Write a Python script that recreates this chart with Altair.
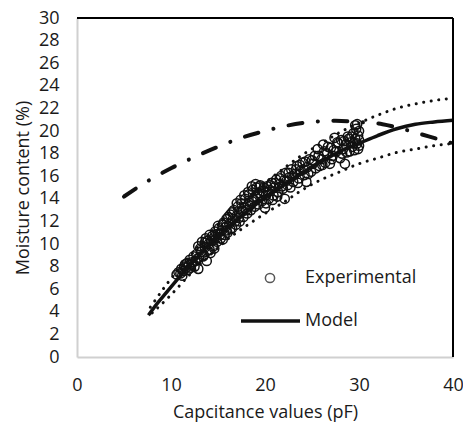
import altair as alt
import pandas as pd

# Experimental points (capacitance pF, moisture %)
exp_x = [10.6, 10.8, 11.0, 11.1, 11.3, 11.4, 11.6, 11.7, 11.9, 12.0, 12.1, 12.3, 12.4, 12.6, 12.7,
         12.9, 12.9, 13.0, 13.2, 13.3, 13.5, 13.6, 13.7, 13.8, 13.9, 14.0, 14.1, 14.2, 14.3, 14.5,
         14.6, 14.7, 14.9, 15.0, 15.1, 15.3, 15.4, 15.5, 15.7, 15.8, 15.9, 16.0, 16.2, 16.3, 16.5,
         16.6, 16.7, 16.9, 17.0, 17.1, 17.3, 17.4, 17.5, 17.7, 17.8, 17.9, 18.1, 18.2, 18.3, 18.5,
         18.6, 18.7, 18.9, 19.0, 19.1, 19.3, 19.4, 19.5, 19.7, 19.8, 20.0, 20.1, 20.2, 20.4, 20.5,
         20.7, 20.9, 21.0, 21.2, 21.4, 21.5, 21.7, 21.9, 22.0, 22.1, 22.2, 22.4, 22.6, 22.8, 23.0,
         23.2, 23.4, 23.6, 23.8, 24.0, 24.2, 24.4, 24.5, 24.7, 24.9, 25.1, 25.3, 25.6, 25.8, 26.0,
         26.2, 26.4, 26.6, 26.9, 27.0, 27.2, 27.4, 27.6, 27.8, 28.0, 28.1, 28.3, 28.5, 28.6, 28.8,
         29.0, 29.1, 29.3, 29.4, 29.5, 29.6, 29.7, 29.8, 29.8, 29.9, 30.0, 30.0,
         11.2, 11.5, 11.8, 12.2, 12.5, 12.8, 13.1, 13.4, 13.6, 13.9, 14.1, 14.4, 14.6, 14.8, 15.0,
         15.2, 15.5, 15.6, 15.9, 16.1, 16.3, 16.5, 16.8, 17.0, 17.2, 17.4, 17.6, 17.8, 18.0, 18.2,
         18.4, 18.6, 18.8, 19.0, 19.2, 19.4, 19.6, 19.9, 20.1, 20.3, 20.6, 20.8, 21.1, 21.3, 21.6,
         21.8, 22.3, 22.5, 22.7, 22.9, 23.3, 23.5, 23.7, 24.1, 24.3, 24.6, 25.0, 25.4, 25.7, 26.1,
         26.3, 26.7, 27.1, 27.3, 27.7, 28.2, 28.4, 28.7, 28.9, 29.2, 29.4, 29.6, 29.9, 30.0]
exp_y = [7.3, 7.5, 7.4, 7.8, 7.6, 8.0, 7.9, 8.3, 8.1, 8.6, 7.9, 8.4, 8.9, 8.5, 9.1,
         7.8, 9.8, 8.8, 9.3, 10.2, 9.0, 9.7, 10.5, 8.5, 9.4, 10.0, 10.8, 9.2, 10.3, 9.8,
         10.6, 11.1, 10.2, 10.9, 11.4, 10.5, 11.2, 11.7, 10.8, 11.5, 12.2, 11.0, 11.8, 12.6, 11.4,
         12.2, 13.0, 11.7, 12.5, 13.3, 12.0, 12.8, 13.6, 12.4, 13.2, 14.0, 12.7, 13.5, 14.4, 13.0,
         13.8, 14.8, 13.3, 14.2, 15.0, 13.5, 14.5, 15.2, 13.8, 14.7, 13.2, 14.3, 15.1, 14.0, 14.8,
         15.4, 14.3, 15.0, 15.7, 14.6, 15.3, 16.0, 14.9, 15.6, 14.0, 16.3, 15.2, 15.9, 16.6, 15.5,
         16.2, 16.9, 15.8, 16.5, 17.2, 16.1, 15.5, 16.8, 17.5, 16.4, 17.1, 17.8, 18.4, 16.9, 17.5,
         18.8, 17.2, 18.0, 17.1, 18.5, 17.8, 19.4, 18.2, 18.9, 17.6, 19.2, 18.4, 17.1, 18.8, 19.5,
         18.2, 19.0, 18.6, 19.8, 18.3, 19.3, 20.2, 18.9, 20.6, 19.6, 18.7, 20.0,
         7.2, 8.2, 7.7, 8.2, 8.0, 8.7, 9.6, 8.9, 10.1, 10.3, 9.5, 10.7, 9.6, 10.5, 11.6,
         10.8, 10.4, 11.9, 11.2, 12.4, 11.3, 12.8, 12.0, 13.6, 12.3, 13.9, 12.9, 14.3, 13.0, 14.6,
         13.4, 15.1, 13.9, 15.3, 14.0, 15.1, 14.2, 15.0, 13.6, 14.6, 15.2, 13.9, 15.4, 14.2, 15.8,
         15.1, 15.6, 16.3, 15.0, 16.0, 16.6, 15.4, 17.0, 16.6, 17.3, 16.2, 17.4, 16.7, 17.8, 17.0,
         18.2, 18.6, 17.5, 18.3, 19.0, 18.0, 19.1, 18.1, 19.3, 19.5, 18.9, 20.5, 18.4, 19.2]

# Model curve
model_x = [7.6, 8.5, 9.5, 10.5, 12, 14, 16, 18, 20, 22, 24, 26, 28, 30, 32, 34, 36, 38, 40]
model_y = [3.7, 4.7, 5.7, 6.7, 8.1, 9.9, 11.4, 12.8, 14.1, 15.2, 16.3, 17.3, 18.2, 18.9, 19.6, 20.2, 20.6, 20.8, 20.95]

# Upper and lower dotted bands
upper_x = [7.8, 9.6, 12, 14, 16, 18, 20, 22, 24, 26, 28, 30, 32, 34, 36, 38, 40]
upper_y = [4.4, 6.5, 8.9, 10.8, 12.5, 14.0, 15.4, 16.7, 17.9, 18.9, 19.9, 20.7, 21.4, 22.0, 22.4, 22.7, 22.9]
lower_x = [8.0, 10, 12, 14, 16, 18, 20, 22, 24, 26, 28, 30, 32, 34, 36, 38, 40]
lower_y = [3.9, 5.5, 7.3, 8.9, 10.4, 11.6, 12.7, 13.7, 14.8, 15.7, 16.4, 17.1, 17.6, 18.1, 18.4, 18.7, 18.9]

# Dash-dot curve
dd_x = [5, 7.8, 10, 12.5, 15, 17.5, 20, 22.5, 25, 27.5, 30, 32.5, 35, 37.5, 40]
dd_y = [14.2, 15.7, 16.7, 17.7, 18.6, 19.4, 20.0, 20.5, 20.8, 20.9, 20.8, 20.6, 20.1, 19.5, 18.9]

x_ticks = [0, 10, 20, 30, 40]
y_ticks = list(range(0, 31, 2))

FONT = "Open Sans"
TXT = "#1a1a1a"
INK = "#111111"
GRAY = "#d0d0d0"

x_scale = alt.Scale(domain=[0, 40], nice=False, zero=False)
y_scale = alt.Scale(domain=[0, 30], nice=False, zero=False)

x_axis = alt.Axis(values=x_ticks, ticks=False, grid=False, domainColor=GRAY, domainWidth=2,
                  labelFlush=False, labelOverlap=False,
                  labelFont=FONT, labelFontSize=18, labelColor=TXT, labelPadding=19,
                  title="Capcitance values (pF)", titleFont=FONT, titleFontSize=18,
                  titleFontWeight="normal", titleColor=TXT, titlePadding=9)
y_axis = alt.Axis(values=y_ticks, ticks=False, grid=False, domainColor=GRAY, domainWidth=2,
                  labelFlush=False, labelOverlap=False,
                  labelFont=FONT, labelFontSize=18, labelColor=TXT, labelPadding=18,
                  title="Moisture content (%)", titleFont=FONT, titleFontSize=18,
                  titleFontWeight="normal", titleColor=TXT, titlePadding=6)


def X():
    return alt.X("x:Q", scale=x_scale, axis=x_axis)


def Y():
    return alt.Y("y:Q", scale=y_scale, axis=y_axis)


exp_df = pd.DataFrame({"x": exp_x, "y": exp_y})
model_df = pd.DataFrame({"x": model_x, "y": model_y})
upper_df = pd.DataFrame({"x": upper_x, "y": upper_y})
lower_df = pd.DataFrame({"x": lower_x, "y": lower_y})
dd_df = pd.DataFrame({"x": dd_x, "y": dd_y})

points = alt.Chart(exp_df).mark_point(shape="circle", filled=False, size=85, color=INK,
                                      strokeWidth=1.5, opacity=1).encode(x=X(), y=Y())

model = alt.Chart(model_df).mark_line(color=INK, strokeWidth=3.5, interpolate="monotone").encode(
    x=X(), y=Y(), order=alt.Order("x:Q"))

upper = alt.Chart(upper_df).mark_line(color=INK, strokeWidth=3, strokeDash=[0.1, 7.5],
                                      strokeCap="round", interpolate="monotone").encode(
    x=X(), y=Y(), order=alt.Order("x:Q"))
lower = alt.Chart(lower_df).mark_line(color=INK, strokeWidth=3, strokeDash=[0.1, 7.5],
                                      strokeCap="round", interpolate="monotone").encode(
    x=X(), y=Y(), order=alt.Order("x:Q"))

dashdot = alt.Chart(dd_df).mark_line(color=INK, strokeWidth=4, strokeDash=[14, 15.5, 0.1, 15.5],
                                     strokeCap="round", interpolate="monotone").encode(
    x=X(), y=Y(), order=alt.Order("x:Q"))

top_rule = alt.Chart(pd.DataFrame({"y": [30]})).mark_rule(color="black", strokeWidth=2).encode(y=Y())
right_rule = alt.Chart(pd.DataFrame({"x": [40]})).mark_rule(color="black", strokeWidth=2).encode(x=X())

# Legend (drawn inside the plot area)
leg_circle = alt.Chart(pd.DataFrame({"k": [0]})).mark_point(
    shape="circle", filled=False, size=85, color=INK, strokeWidth=1.5).encode(
    x=alt.value(193), y=alt.value(260))
leg_text1 = alt.Chart(pd.DataFrame({"k": [0]})).mark_text(
    align="left", baseline="middle", font=FONT, fontSize=18, color=TXT).encode(
    x=alt.value(228), y=alt.value(260), text=alt.value("Experimental"))
leg_line = alt.Chart(pd.DataFrame({"k": [0]})).mark_rule(color=INK, strokeWidth=3.5).encode(
    x=alt.value(164), x2=alt.value(223), y=alt.value(303))
leg_text2 = alt.Chart(pd.DataFrame({"k": [0]})).mark_text(
    align="left", baseline="middle", font=FONT, fontSize=18, color=TXT).encode(
    x=alt.value(228), y=alt.value(303), text=alt.value("Model"))

chart = alt.layer(
    points, upper, lower, model, dashdot, top_rule, right_rule,
    leg_circle, leg_text1, leg_line, leg_text2
).properties(
    width=376, height=339,
    autosize=alt.AutoSizeParams(type="none"),
    padding={"left": 69, "top": 10, "right": 10, "bottom": 65},
    background="white"
).configure_view(stroke=None)

chart.save("out.html", embed_options={"renderer": "svg", "actions": False})
